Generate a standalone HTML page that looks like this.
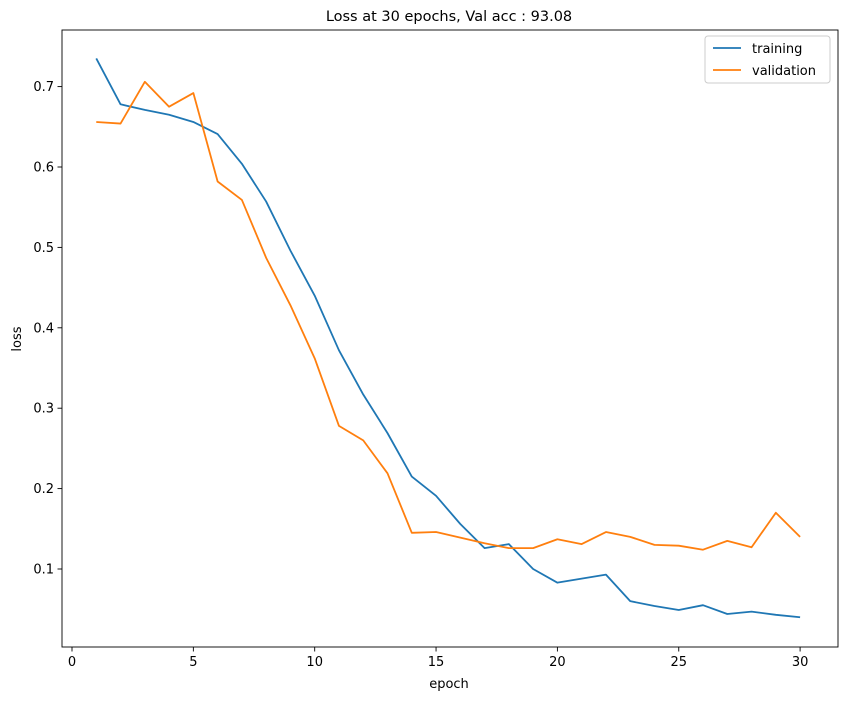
<!DOCTYPE html>
<html><head><meta charset="utf-8"><style>
body{margin:0;background:#fff;}
svg text{font-family:"DejaVu Sans","Liberation Sans",sans-serif;fill:#000;}
</style></head><body>
<svg id="chart" width="846" height="699" xmlns="http://www.w3.org/2000/svg">
<rect width="846" height="699" fill="#fff"/>
<text x="449" y="21" font-size="14.5" text-anchor="middle">Loss at 30 epochs, Val acc : 93.08</text>
<g id="marks"></g>
<rect x="62" y="30" width="776" height="617" fill="none" stroke="#000" stroke-width="0.9"/>
<text x="449" y="688" font-size="13" text-anchor="middle">epoch</text>
<text x="21" y="339" font-size="13" text-anchor="middle" transform="rotate(-90 21 339)">loss</text>
<g>
<rect x="705" y="36" width="125" height="47" rx="3" fill="#fff" stroke="#ccc"/>
<line x1="713" y1="48" x2="741" y2="48" stroke="#1f77b4" stroke-width="1.8"/>
<text x="752" y="53" font-size="13">training</text>
<line x1="713" y1="70" x2="741" y2="70" stroke="#ff7f0e" stroke-width="1.8"/>
<text x="752" y="75" font-size="13">validation</text>
</g>
</svg>
<script>
const epochs=[1,2,3,4,5,6,7,8,9,10,11,12,13,14,15,16,17,18,19,20,21,22,23,24,25,26,27,28,29,30];
const training=[0.735,0.678,0.671,0.665,0.656,0.641,0.604,0.557,0.496,0.440,0.372,0.317,0.269,0.215,0.191,0.156,0.126,0.131,0.100,0.083,0.088,0.093,0.060,0.054,0.049,0.055,0.044,0.047,0.043,0.040];
const validation=[0.656,0.654,0.706,0.675,0.692,0.582,0.559,0.487,0.428,0.362,0.278,0.260,0.219,0.145,0.146,0.139,0.132,0.126,0.126,0.137,0.131,0.146,0.140,0.130,0.129,0.124,0.135,0.127,0.170,0.140];
const xTicks=[0,5,10,15,20,25,30];
const yTicks=[0.1,0.2,0.3,0.4,0.5,0.6,0.7];
const NS="http://www.w3.org/2000/svg";
function xs(v){return 72+v*24.27;}
function ys(v){return 649.4-v*804;}
const g=document.getElementById('marks');
function mk(t,a){const e=document.createElementNS(NS,t);for(const k in a)e.setAttribute(k,a[k]);g.appendChild(e);return e;}
xTicks.forEach(t=>{
  const l=mk('line',{x1:xs(t),x2:xs(t),y1:647,y2:651.5,stroke:'#000','stroke-width':0.9});
  
  
  const tx=mk('text',{x:xs(t),y:666,'font-size':13,'text-anchor':'middle'});
  tx.textContent=t;
  
  
});
yTicks.forEach(t=>{
  const l=mk('line',{x1:57.5,x2:62,y1:ys(t),y2:ys(t),stroke:'#000','stroke-width':0.9});
  
  
  const tx=mk('text',{x:54,y:ys(t)+4.5,'font-size':13,'text-anchor':'end'});
  tx.textContent=t.toFixed(1);
  
  
});
function line(data,color,name){
  const p=mk('polyline',{points:data.map((v,i)=>xs(epochs[i])+','+ys(v)).join(' '),fill:'none',stroke:color,'stroke-width':1.8,'stroke-linejoin':'round'});
  
  
}
line(training,'#1f77b4','training-line');
line(validation,'#ff7f0e','validation-line');
</script>
</body></html>
